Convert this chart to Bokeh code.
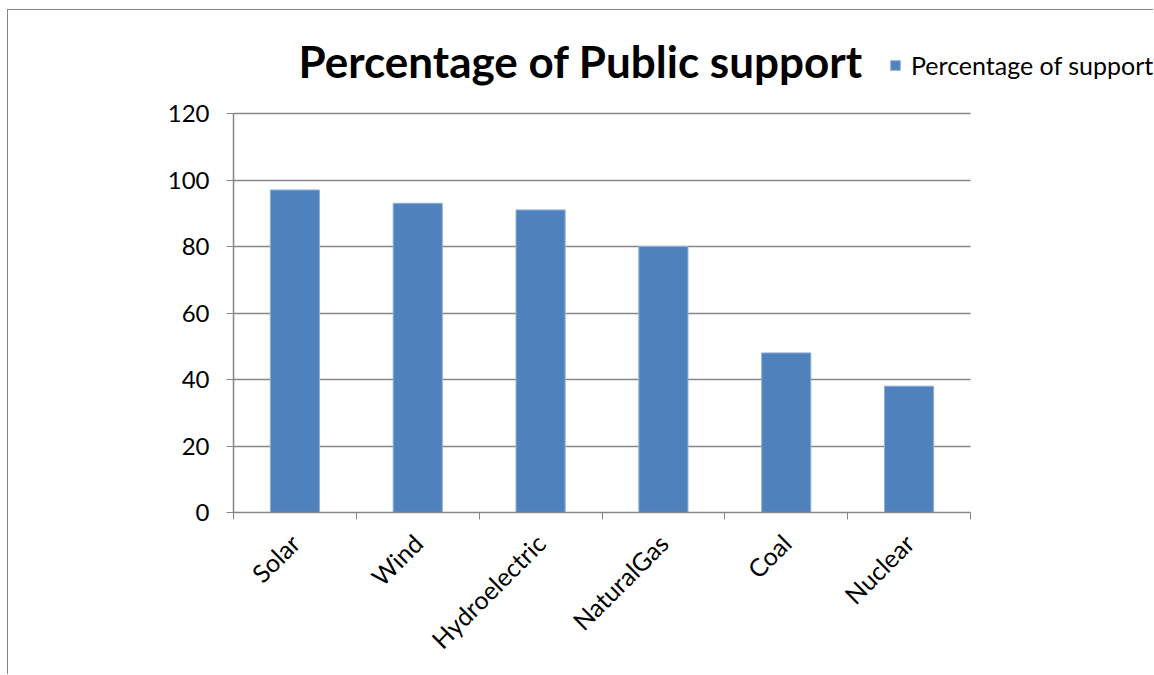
from math import pi
from bokeh.plotting import figure
from bokeh.models import (Range1d, FixedTicker, Legend, LegendItem, Label,
                          ColumnDataSource)
from bokeh.embed import file_html
from bokeh.resources import INLINE

categories = ["Solar", "Wind", "Hydroelectric", "NaturalGas", "Coal", "Nuclear"]
support = [97, 93, 91, 80, 48, 38]
y_ticks = [0, 20, 40, 60, 80, 100, 120]
title_text = "Percentage of Public support"
series_name = "Percentage of support"

FONT = "Lato"
GRAY = "#868686"
BLUE = "#4F81BD"

# page offset of the figure (chart border at the left/top)
OX, OY = 8, 10
W, H = 1154 - OX, 675 - OY
# plot-area edges (page pixels) of the value axes
L, R, T, B = 233, 970, 113, 512
n = len(categories)
ymax = y_ticks[-1]
ppx = (R - L) / n          # pixels per category
ppy = (B - T) / ymax       # pixels per unit

# the frame spans to the page's top/right edge so title and legend fit in it
x_end = n + (1154 - R) / ppx
y_end = ymax + (T - OY) / ppy

def dx(px):
    return (px - L) / ppx

def dy(py):
    return (B - py) / ppy

centers = [i + 0.5 for i in range(n)]
src = ColumnDataSource(dict(x=centers, top=support, name=categories))

p = figure(width=W, height=H, output_backend="svg", toolbar_location=None,
           x_range=Range1d(0, x_end), y_range=Range1d(0, y_end),
           min_border_left=L - OX, min_border_right=0,
           min_border_top=0, min_border_bottom=675 - B)
p.outline_line_color = None
p.background_fill_color = "white"
p.border_fill_color = "white"
p.styles = {"margin-left": f"{OX - 1}px", "margin-top": f"{OY - 1}px",
            "border-left": f"1px solid {GRAY}", "border-top": f"1px solid {GRAY}"}

bars = p.vbar(x="x", top="top", width=0.4, source=src, fill_color=BLUE,
              line_color="#8EB0DA", line_width=1)

# axes
xa = p.xaxis[0]
xa.bounds = (0, n)
xa.ticker = FixedTicker(ticks=centers, minor_ticks=list(range(n + 1)))
xa.major_label_overrides = {c: name for c, name in zip(centers, categories)}
xa.major_label_orientation = pi / 4
xa.major_tick_line_color = None
xa.minor_tick_line_color = GRAY
xa.minor_tick_out = 7
xa.minor_tick_in = 0
xa.axis_line_color = GRAY
xa.axis_line_width = 1.5
xa.major_label_text_font = FONT
xa.major_label_text_font_size = "25px"
xa.major_label_text_color = "black"
xa.major_label_standoff = 19

ya = p.yaxis[0]
ya.bounds = (0, ymax)
ya.ticker = FixedTicker(ticks=y_ticks, minor_ticks=[])
ya.major_tick_line_color = GRAY
ya.major_tick_out = 7
ya.major_tick_in = 0
ya.axis_line_color = GRAY
ya.axis_line_width = 1.5
ya.major_label_text_font = FONT
ya.major_label_text_font_size = "24px"
ya.major_label_text_color = "black"
ya.major_label_standoff = 17

p.xgrid.grid_line_color = None
p.ygrid.ticker = FixedTicker(ticks=y_ticks)
p.ygrid.cross_bounds = (0, n)
p.ygrid.grid_line_color = GRAY
p.ygrid.grid_line_width = 1.5

# title
p.add_layout(Label(x=dx(298), y=dy(60), text=title_text, text_align="left",
                   text_baseline="alphabetic", text_font=FONT,
                   text_font_style="bold", text_font_size="44px",
                   text_color="black"))

# legend
legend = Legend(items=[LegendItem(label=series_name, renderers=[bars])],
                location=(889 - L, B - 52 - 28),
                glyph_width=12, glyph_height=12, label_text_font=FONT,
                label_text_font_size="25px", label_text_color="black",
                label_standoff=10, label_height=28, padding=0, margin=0,
                spacing=0, border_line_color=None, background_fill_alpha=0)
p.add_layout(legend, "center")

open("out.html", "w").write(file_html(p, INLINE))
